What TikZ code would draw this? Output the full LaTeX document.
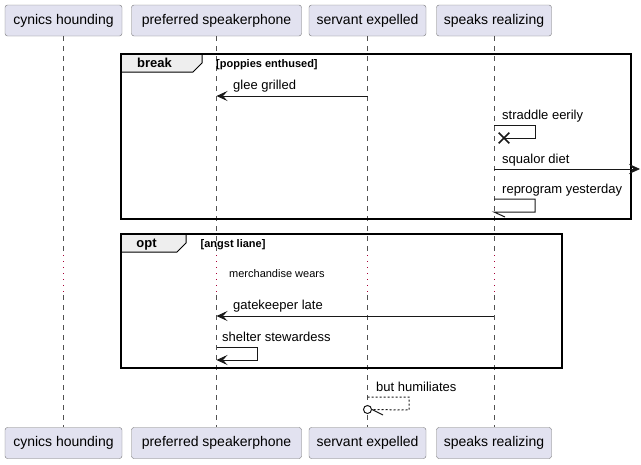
\documentclass[tikz,border=0pt]{standalone}
\usepackage{fontspec}
\setmainfont{Liberation Sans}
\usepackage{tikz}
\usetikzlibrary{arrows.meta, shapes.misc}
\definecolor{partfill}{HTML}{E2E2F0}
\definecolor{partline}{HTML}{181818}
\definecolor{dlydot}{HTML}{A80036}
\definecolor{tabfill}{HTML}{EEEEEE}
\tikzstyle{part}=[draw=partline!60, fill=partfill, rounded corners=2.5pt, minimum height=31pt, inner sep=0pt, font=\fontsize{14}{16}\selectfont]
\tikzstyle{life}=[draw=partline!75, line width=0.6pt, dash pattern=on 5pt off 5pt]
\tikzstyle{dly}=[draw=dlydot, line width=1pt, dash pattern=on 1pt off 5pt]
\tikzstyle{msg}=[draw=partline, line width=1pt]
\tikzstyle{tip}=[-{Stealth[length=11pt, width=10pt, inset=4.5pt, line width=0.8pt]}]
\tikzstyle{lbl}=[anchor=base west, inner sep=0pt, font=\fontsize{13}{15}\selectfont]
\tikzstyle{grp}=[draw=black, line width=1.6pt]
\tikzstyle{grptab}=[draw=black, line width=1pt, fill=tabfill]
\tikzstyle{grpname}=[anchor=base, inner sep=0pt, font=\bfseries\fontsize{13}{15}\selectfont]
\tikzstyle{cond}=[anchor=base west, inner sep=0pt, font=\bfseries\fontsize{11}{13}\selectfont]

\begin{document}
\begin{tikzpicture}[x=1pt, y=-1pt]
  \useasboundingbox (0,0) rectangle (641,464);
  % participants, top and bottom
  \node[part, minimum width=117pt] (cynTop) at (63.5,20.5) {cynics hounding};
  \node[part, minimum width=170pt] (prefTop) at (216.5,20.5) {preferred speakerphone};
  \node[part, minimum width=117pt] (servTop) at (367.5,20.5) {servant expelled};
  \node[part, minimum width=115pt] (spkTop) at (494,20.5) {speaks realizing};
  \node[part, minimum width=117pt] (cynBot) at (63.5,443) {cynics hounding};
  \node[part, minimum width=170pt] (prefBot) at (216.5,443) {preferred speakerphone};
  \node[part, minimum width=117pt] (servBot) at (367.5,443) {servant expelled};
  \node[part, minimum width=115pt] (spkBot) at (494,443) {speaks realizing};

  % rows
  \coordinate (dlyA) at (0,255);
  \coordinate (dlyB) at (0,295);
  \coordinate (r1) at (0,96);
  \coordinate (r2) at (0,125);
  \coordinate (r2b) at (535,138);
  \coordinate (r3) at (0,169);
  \coordinate (edgeR) at (640,169);
  \coordinate (r4) at (0,199);
  \coordinate (r4b) at (535,212);
  \coordinate (r4c) at (505,217);
  \coordinate (r5) at (0,316);
  \coordinate (r6) at (0,347);
  \coordinate (r6b) at (257,360);
  \coordinate (r7) at (0,397);
  \coordinate (r7b) at (409,410);
  \coordinate (r7c) at (383,415);

  % lifelines
  \foreach \p in {cyn, pref, serv, spk} {
    \draw[life] (\p Top.south) -- (\p Top |- dlyA);
    \draw[dly] (\p Top |- dlyA) -- (\p Top |- dlyB);
    \draw[life] (\p Top |- dlyB) -- (\p Bot.north);
  }

  % break group
  \draw[grptab] (121,54) -- (202,54) -- (202,63) -- (193,72) -- (121,72) -- cycle;
  \draw[grp] (121,54) rectangle (631,219);
  \node[grpname] (brk) at (154.5,67.5) {break};
  \node[cond] (brkc) at (216,67.5) {[poppies enthused]};

  \draw[msg, tip] (servTop |- r1) -- (prefTop |- r1);
  \node[lbl] (m1) at (233,89) {glee grilled};

  \node[draw=partline, cross out, line width=1.6pt, minimum size=9pt, inner sep=0pt] (kill) at (504,138) {};
  \draw[msg] (spkTop |- r2) -- (r2b |- r2) -- (r2b) -- (kill.center);
  \node[lbl] (m2) at (502,119) {straddle eerily};

  \draw[msg, tip] (spkTop |- r3) -- (edgeR);
  \node[lbl] (m3) at (502,163) {squalor diet};

  \draw[msg] (spkTop |- r4) -- (r4b |- r4) -- (r4b) -- (spkTop |- r4b) -- (r4c);
  \node[lbl] (m4) at (502,193) {reprogram yesterday};

  % opt group
  \draw[grptab] (121,234) -- (186,234) -- (186,243) -- (177,252) -- (121,252) -- cycle;
  \draw[grp] (121,234) rectangle (562,368);
  \node[grpname] (opt) at (146.5,247.5) {opt};
  \node[cond] (optc) at (200.5,247.5) {[angst liane]};

  \node[lbl, font=\fontsize{11}{13}\selectfont] (wait) at (229,277.5) {merchandise wears};

  \draw[msg, tip] (spkTop |- r5) -- (prefTop |- r5);
  \node[lbl] (m5) at (233,309) {gatekeeper late};

  \draw[msg, tip] (prefTop |- r6) -- (r6b |- r6) -- (r6b) -- (prefTop |- r6b);
  \node[lbl] (m6) at (222,341) {shelter stewardess};

  % after the groups
  \node[circle, draw=partline, fill=white, line width=1pt, minimum size=8pt, inner sep=0pt] (lost) at (367.5,409.5) {};
  \draw[msg, dashed, dash pattern=on 2pt off 2pt] (servTop |- r7) -- (r7b |- r7) -- (r7b) -- (lost.east);
  \draw[msg] (lost.east) -- (r7c);
  \node[lbl] (m7) at (376,391) {but humiliates};
\end{tikzpicture}
\end{document}
